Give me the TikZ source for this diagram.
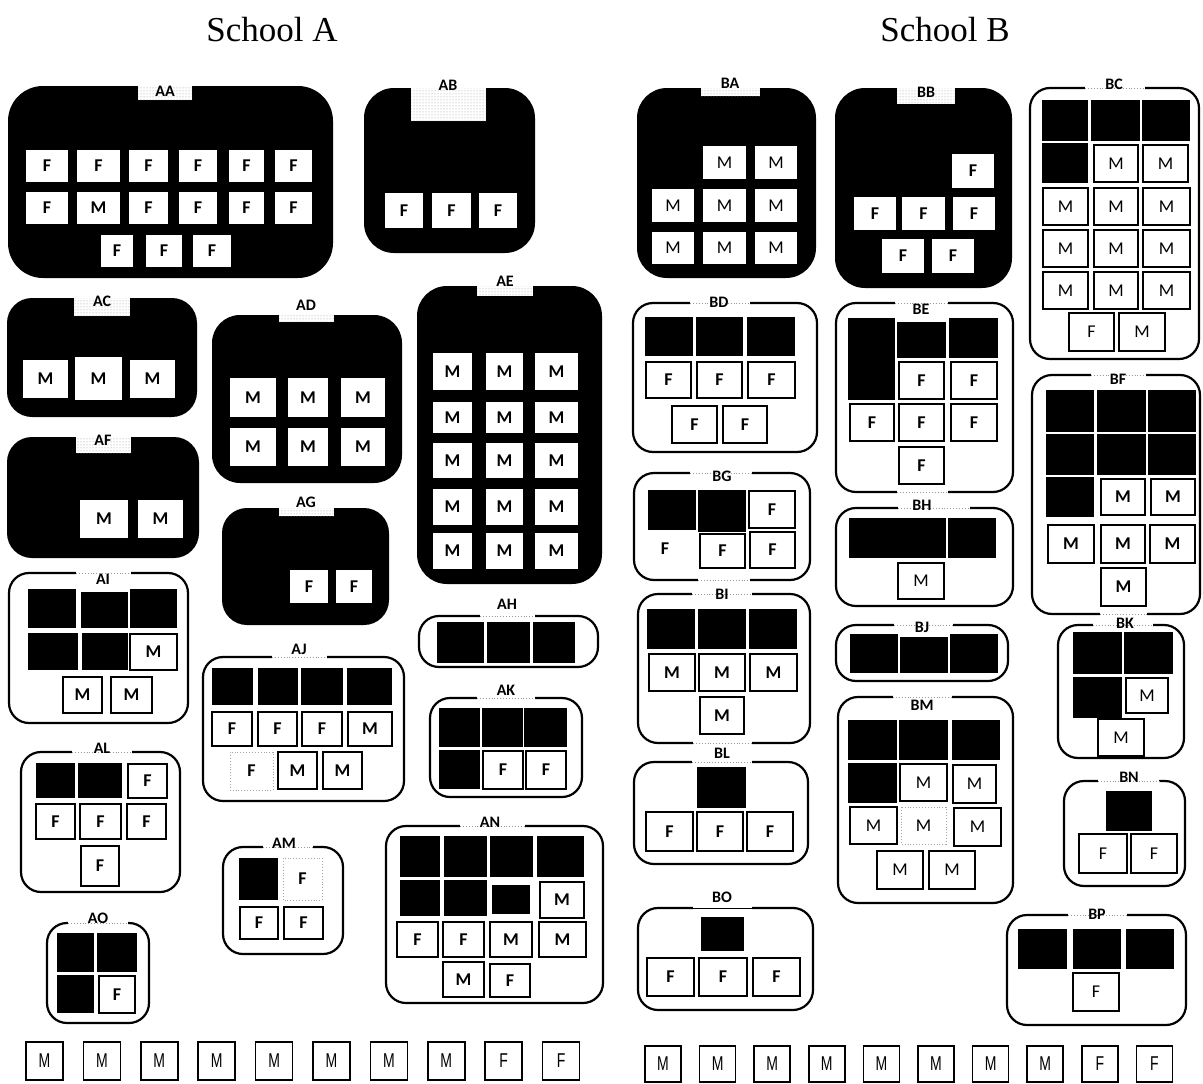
\documentclass[tikz,border=0pt]{standalone}
\usepackage{fontspec}
\newfontfamily\carl{Carlito}
\newfontfamily\titlef{Liberation Serif}
\newfontfamily\narrowf[FakeStretch=0.7]{Liberation Sans}
\usetikzlibrary{calc,patterns}
\newcounter{bxc}
\tikzset{
 grpline/.style={draw=black, line width=2.2pt, rounded corners=20pt},
 gapdot/.style={draw=gray!80, dotted, line width=0.9pt},
 wbx/.style={draw=black, line width=2.6pt, fill=white},
 thinbx/.style={draw=black, line width=1.2pt, fill=white},
 dotbx/.style={draw=gray!70, line width=0.9pt, dotted, fill=white},
 innerbx/.style={fill=white},
 lettr/.style={font=\carl\bfseries\fontsize{18}{18}\selectfont, inner sep=0pt},
 lettrR/.style={font=\carl\fontsize{18}{18}\selectfont, inner sep=0pt},
 curlet/.style={lettr},
 lbl/.style={font=\carl\bfseries\fontsize{16}{16}\selectfont, inner sep=0pt},
 ttl/.style={font=\titlef\fontsize{35}{35}\selectfont, inner sep=0pt},
 btm/.style={draw=black, line width=1.6pt, fill=white},
 btmtxt/.style={font=\narrowf\fontsize{20}{20}\selectfont, inner sep=0pt},
}
\newcommand\Bk[4]{\fill[black] (#1,#2) rectangle (#3,#4);}
\newcommand\Bx[6][wbx]{\path[#1] (#2,#3) rectangle (#4,#5);\stepcounter{bxc}\node[curlet] (t\arabic{bxc}) at ($(#2,#3)!0.5!(#4,#5)$) {#6};}
\newcommand\BG[5]{\fill[black, rounded corners=#5pt] (#1,#2) rectangle (#3,#4);}
\newcommand\Tab[4]{\fill[white] (#1,#2) rectangle (#3,#4);\fill[pattern=dots, pattern color=gray!85] (#1,#2) rectangle (#3,#4);}
\newcommand\WG[6]{\draw[grpline] (#1,#2) rectangle (#3,#4);\fill[white] (#5,#2-3) rectangle (#6,#2+3);\draw[gapdot] (#5,#2) -- (#6,#2);}
\newcommand\BGap[3]{\fill[white] (#1,#3-3) rectangle (#2,#3+3);\draw[gapdot] (#1,#3) -- (#2,#3);}
\newcommand\Lb[3]{\node[lbl] (L#3) at (#1,#2) {#3};}
\newcommand\Bt[5]{\path[btm] (#1,#2) rectangle (#3,#4);\stepcounter{bxc}\node[btmtxt] (t\arabic{bxc}) at ($(#1,#2)!0.5!(#3,#4)$) {#5};}
\begin{document}
\begin{tikzpicture}[x=1pt,y=-1pt]
\useasboundingbox (0,0) rectangle (1203,1084);
\fill[white] (0,0) rectangle (1203,1084);
\node[ttl] (tA) at (272,30) {School A};
\node[ttl] (tB) at (945,30) {School B};
% ================= School A =================
% AA
\BG{8}{86}{333}{278}{35}
\Tab{138}{86}{192}{100}
\Lb{165}{91}{AA}
\Bx[innerbx]{26}{150}{68}{182}{F}\Bx[innerbx]{77}{150}{120}{182}{F}\Bx[innerbx]{129}{150}{168}{182}{F}
\Bx[innerbx]{179}{150}{217}{182}{F}\Bx[innerbx]{229}{150}{264}{182}{F}\Bx[innerbx]{275}{150}{312}{182}{F}
\Bx[innerbx]{26}{192}{68}{224}{F}\Bx[innerbx]{77}{192}{120}{224}{M}\Bx[innerbx]{129}{192}{168}{224}{F}
\Bx[innerbx]{179}{192}{217}{224}{F}\Bx[innerbx]{229}{192}{264}{224}{F}\Bx[innerbx]{275}{192}{312}{224}{F}
\Bx[innerbx]{101}{235}{133}{267}{F}\Bx[innerbx]{146}{235}{182}{267}{F}\Bx[innerbx]{193}{235}{231}{267}{F}
% AB
\BG{364}{88}{535}{253}{30}
\Tab{411}{88}{486}{121}
\Lb{448}{85}{AB}
\Bx[innerbx]{385}{193}{423}{228}{F}\Bx[innerbx]{432}{193}{471}{228}{F}\Bx[innerbx]{479}{193}{517}{228}{F}
% AC
\BG{7}{298}{197}{417}{25}
\Tab{74}{298}{130}{316}
\Lb{102}{301}{AC}
\Bx[innerbx]{23}{360}{68}{398}{M}\Bx[innerbx]{75}{357}{122}{400}{M}\Bx[innerbx]{130}{360}{175}{398}{M}
% AF
\BG{7}{437}{199}{558}{25}
\Tab{76}{437}{131}{453}
\Lb{103}{440}{AF}
\Bx[innerbx]{80}{500}{128}{538}{M}\Bx[innerbx]{138}{500}{183}{538}{M}
% AD
\BG{212}{315}{402}{483}{28}
\Tab{279}{315}{334}{322}
\Lb{306}{305}{AD}
\Bx[innerbx]{230}{378}{276}{417}{M}\Bx[innerbx]{288}{378}{328}{417}{M}\Bx[innerbx]{341}{378}{385}{417}{M}
\Bx[innerbx]{230}{428}{276}{466}{M}\Bx[innerbx]{288}{428}{328}{466}{M}\Bx[innerbx]{341}{428}{385}{466}{M}
% AG
\BG{222}{508}{389}{625}{25}
\Tab{279}{508}{334}{516}
\Lb{306}{502}{AG}
\Bx[innerbx]{290}{570}{328}{603}{F}\Bx[innerbx]{336}{570}{372}{603}{F}
% AE
\BG{417}{286}{602}{584}{30}
\Tab{477}{286}{533}{296}
\Lb{505}{281}{AE}
\foreach \ya/\yb in {353/390,402/433,443/478,489/525,533/569}{
 \Bx[innerbx]{433}{\ya}{472}{\yb}{M}\Bx[innerbx]{486}{\ya}{523}{\yb}{M}\Bx[innerbx]{535}{\ya}{578}{\yb}{M}}
% AI
\WG{9}{573}{188}{723}{76}{131}
\Lb{103}{579}{AI}
\Bk{28}{589}{76}{628}\Bk{81}{592}{128}{628}\Bk{130}{589}{177}{628}
\Bk{28}{633}{78}{670}\Bk{82}{633}{128}{670}
\Bx{130}{634}{177}{670}{M}
\Bx{63}{677}{102}{713}{M}\Bx{111}{677}{152}{713}{M}
% AL
\WG{21}{752}{180}{892}{72}{132}
\Lb{102}{748}{AL}
\Bk{36}{763}{75}{798}\Bk{78}{763}{122}{798}
\Bx{128}{764}{167}{798}{F}
\Bx{36}{804}{75}{839}{F}\Bx{80}{804}{121}{839}{F}\Bx[thinbx]{127}{804}{166}{839}{F}
\Bx{81}{846}{119}{886}{F}
% AO
\WG{47}{923}{149}{1023}{68}{128}
\Lb{98}{918}{AO}
\Bk{57}{933}{94}{972}\Bk{97}{933}{137}{972}\Bk{57}{975}{94}{1013}
\Bx{99}{976}{135}{1013}{F}
% AJ
\WG{203}{657}{404}{801}{272}{327}
\Lb{299}{649}{AJ}
\Bk{212}{668}{253}{705}\Bk{258}{668}{298}{705}\Bk{301}{668}{343}{705}\Bk{347}{668}{392}{705}
\Bx{212}{712}{252}{746}{F}\Bx{258}{712}{297}{746}{F}\Bx{302}{712}{342}{746}{F}\Bx{348}{712}{392}{746}{M}
\Bx[dotbx]{230}{752}{273}{790}{F}\Bx{278}{752}{317}{789}{M}\Bx{323}{752}{362}{789}{M}
% AM
\WG{223}{847}{343}{954}{263}{313}
\Lb{284}{843}{AM}
\Bk{239}{858}{278}{900}
\Bx[dotbx]{283}{858}{322}{900}{F}
\Bx{240}{907}{278}{939}{F}\Bx{284}{907}{323}{939}{F}
% AH
\WG{419}{616}{598}{667}{480}{535}
\Lb{507}{604}{AH}
\Bk{437}{622}{484}{663}\Bk{487}{622}{530}{663}\Bk{533}{622}{575}{663}
% AK
\WG{430}{698}{582}{797}{477}{535}
\Lb{506}{690}{AK}
\Bk{439}{708}{480}{747}\Bk{482}{708}{523}{747}\Bk{524}{708}{567}{747}\Bk{439}{750}{480}{789}
\Bx{483}{751}{523}{789}{F}\Bx{526}{751}{566}{789}{F}
% AN
\WG{386}{826}{603}{1003}{460}{525}
\Lb{490}{822}{AN}
\Bk{400}{836}{440}{877}\Bk{444}{836}{487}{877}\Bk{490}{836}{533}{877}\Bk{537}{836}{584}{877}
\Bk{400}{880}{440}{916}\Bk{444}{880}{487}{916}\Bk{492}{885}{530}{914}
\Bx{540}{882}{584}{918}{M}
\Bx[thinbx]{397}{922}{438}{957}{F}\Bx{443}{922}{484}{957}{F}\Bx{490}{922}{532}{957}{M}\Bx{539}{922}{586}{957}{M}
\Bx{443}{962}{484}{997}{M}\Bx{490}{964}{530}{997}{F}
% ================= School B =================
% BA
\tikzset{curlet/.style={lettrR}}
\BG{637}{88}{816}{278}{30}
\Tab{701}{88}{760}{96}
\Lb{730}{83}{BA}
\Bx[innerbx]{703}{146}{746}{179}{M}\Bx[innerbx]{755}{146}{797}{179}{M}
\Bx[innerbx]{652}{189}{694}{222}{M}\Bx[innerbx]{703}{189}{746}{222}{M}\Bx[innerbx]{755}{189}{797}{222}{M}
\Bx[innerbx]{652}{232}{694}{264}{M}\Bx[innerbx]{703}{232}{746}{264}{M}\Bx[innerbx]{755}{232}{797}{264}{M}
% BB
\tikzset{curlet/.style={lettr}}
\BG{835}{88}{1012}{288}{30}
\Tab{897}{88}{955}{104}
\Lb{926}{92}{BB}
\Bx[innerbx]{952}{154}{994}{188}{F}
\Bx[innerbx]{854}{197}{896}{230}{F}\Bx[innerbx]{902}{197}{945}{230}{F}\Bx[innerbx]{953}{197}{995}{230}{F}
\Bx[innerbx]{882}{239}{924}{273}{F}\Bx[innerbx]{932}{239}{974}{273}{F}
% BC
\tikzset{curlet/.style={lettrR}}
\WG{1030}{88}{1199}{359}{1085}{1145}
\Lb{1114}{84}{BC}
\Bk{1042}{100}{1088}{141}\Bk{1091}{100}{1140}{141}\Bk{1142}{100}{1190}{141}\Bk{1042}{143}{1088}{183}
\Bx{1094}{145}{1138}{182}{M}\Bx{1143}{145}{1188}{182}{M}
\Bx{1043}{188}{1088}{225}{M}\Bx{1094}{188}{1138}{225}{M}\Bx{1143}{188}{1190}{225}{M}
\Bx[thinbx]{1043}{230}{1088}{267}{M}\Bx{1094}{230}{1138}{267}{M}\Bx{1143}{230}{1190}{267}{M}
\Bx{1043}{272}{1088}{309}{M}\Bx{1094}{272}{1138}{309}{M}\Bx{1143}{272}{1190}{309}{M}
\Bx{1069}{313}{1114}{351}{F}\Bx{1119}{313}{1165}{351}{M}
% BD
\tikzset{curlet/.style={lettr}}
\WG{633}{303}{817}{452}{690}{750}
\Lb{719}{302}{BD}
\Bk{645}{317}{693}{356}\Bk{696}{317}{743}{356}\Bk{747}{317}{795}{356}
\Bx{646}{362}{691}{398}{F}\Bx{697}{362}{742}{398}{F}\Bx{748}{362}{795}{398}{F}
\Bx{672}{406}{717}{443}{F}\Bx{723}{406}{767}{443}{F}
% BE
\WG{836}{303}{1013}{492}{895}{948}
\BGap{897}{948}{492}
\Lb{921}{309}{BE}
\Bk{848}{318}{895}{400}\Bk{897}{322}{946}{358}\Bk{949}{318}{998}{358}
\Bx{899}{362}{944}{399}{F}\Bx{951}{362}{997}{399}{F}
\Bx{850}{404}{894}{441}{F}\Bx{899}{404}{944}{441}{F}\Bx{951}{404}{997}{441}{F}
\Bx{899}{447}{944}{484}{F}
% BF
\WG{1032}{375}{1200}{614}{1091}{1146}
\BGap{1100}{1147}{614}
\Lb{1118}{379}{BF}
\Bk{1046}{390}{1094}{432}\Bk{1097}{390}{1146}{432}\Bk{1148}{390}{1196}{432}
\Bk{1046}{434}{1094}{475}\Bk{1097}{434}{1146}{475}\Bk{1148}{434}{1196}{475}
\Bk{1046}{477}{1094}{517}
\Bx{1101}{479}{1145}{515}{M}\Bx{1151}{479}{1195}{515}{M}
\Bx{1048}{525}{1094}{563}{M}\Bx{1101}{525}{1145}{563}{M}\Bx{1150}{525}{1195}{563}{M}
\Bx{1101}{568}{1146}{606}{M}
% BG
\WG{634}{473}{810}{580}{690}{752}
\BGap{698}{750}{580}
\Lb{722}{476}{BG}
\Bk{648}{490}{696}{530}\Bk{698}{490}{746}{532}
\Bx{749}{491}{795}{528}{F}
\node[curlet] (BGf) at (665,549) {F};
\Bx{700}{534}{745}{568}{F}\Bx{750}{532}{795}{568}{F}
% BH
\tikzset{curlet/.style={lettrR}}
\WG{836}{508}{1013}{606}{898}{970}
\Lb{922}{505}{BH}
\Bk{849}{518}{946}{558}\Bk{948}{518}{996}{558}
\Bx{898}{563}{944}{599}{M}
% BI
\tikzset{curlet/.style={lettr}}
\WG{638}{594}{810}{743}{692}{752}
\BGap{693}{752}{743}
\Lb{722}{594}{BI}
\Bk{647}{609}{695}{649}\Bk{698}{609}{746}{649}\Bk{749}{609}{797}{649}
\Bx{649}{654}{695}{691}{M}\Bx{699}{654}{745}{691}{M}\Bx{750}{654}{797}{691}{M}
\Bx{700}{697}{744}{734}{M}
% BJ
\WG{836}{625}{1008}{681}{894}{953}
\Lb{922}{627}{BJ}
\Bk{850}{634}{898}{673}\Bk{900}{637}{948}{673}\Bk{950}{634}{998}{673}
% BK
\tikzset{curlet/.style={lettrR}}
\WG{1058}{625}{1184}{758}{1093}{1153}
\Lb{1125}{623}{BK}
\Bk{1073}{632}{1122}{674}\Bk{1124}{632}{1173}{674}\Bk{1073}{677}{1122}{718}
\Bx{1126}{678}{1168}{713}{M}
\Bx{1098}{719}{1144}{756}{M}
% BL
\tikzset{curlet/.style={lettr}}
\WG{634}{762}{808}{864}{692}{752}
\Lb{722}{753}{BL}
\Bk{697}{767}{746}{808}
\Bx{646}{812}{693}{851}{F}\Bx{697}{812}{743}{851}{F}\Bx{747}{812}{793}{851}{F}
% BM
\tikzset{curlet/.style={lettrR}}
\WG{838}{697}{1013}{903}{893}{952}
\Lb{922}{705}{BM}
\Bk{848}{720}{897}{760}\Bk{899}{720}{948}{760}\Bk{952}{720}{1000}{760}\Bk{848}{763}{897}{803}
\Bx{900}{764}{947}{801}{M}\Bx{953}{765}{996}{803}{M}
\Bx{850}{807}{897}{844}{M}\Bx[dotbx]{901}{807}{946}{844}{M}\Bx{954}{808}{1001}{846}{M}
\Bx{877}{851}{923}{889}{M}\Bx{929}{851}{975}{889}{M}
% BN
\WG{1064}{781}{1185}{886}{1098}{1159}
\Lb{1129}{777}{BN}
\Bk{1106}{791}{1152}{831}
\Bx{1079}{834}{1127}{873}{F}\Bx{1131}{834}{1177}{873}{F}
% BO
\tikzset{curlet/.style={lettr}}
\draw[grpline] (638,908) rectangle (813,1010);
\fill[white] (693,905) rectangle (752,911);
\draw[black, line width=0.8pt] (693,908) -- (752,908);
\Lb{722}{897}{BO}
\Bk{701}{917}{744}{951}
\Bx{647}{958}{694}{996}{F}\Bx{699}{958}{747}{996}{F}\Bx{753}{958}{800}{996}{F}
% BP
\tikzset{curlet/.style={lettrR}}
\WG{1007}{915}{1186}{1025}{1068}{1127}
\Lb{1097}{914}{BP}
\Bk{1018}{929}{1067}{969}\Bk{1073}{929}{1121}{969}\Bk{1126}{929}{1174}{969}
\Bx{1073}{973}{1119}{1011}{F}
% ================= bottom rows =================
\foreach \i/\t in {0/M,1/M,2/M,3/M,4/M,5/M,6/M,7/M,8/F,9/F}{
 \pgfmathsetmacro\xa{26+57.4*\i}\pgfmathsetmacro\xb{\xa+37}
 \Bt{\xa}{1042}{\xb}{1080}{\t}
 \pgfmathsetmacro\xc{645+54.6*\i}\pgfmathsetmacro\xd{\xc+36}
 \Bt{\xc}{1046}{\xd}{1082}{\t}}
\end{tikzpicture}
\end{document}
